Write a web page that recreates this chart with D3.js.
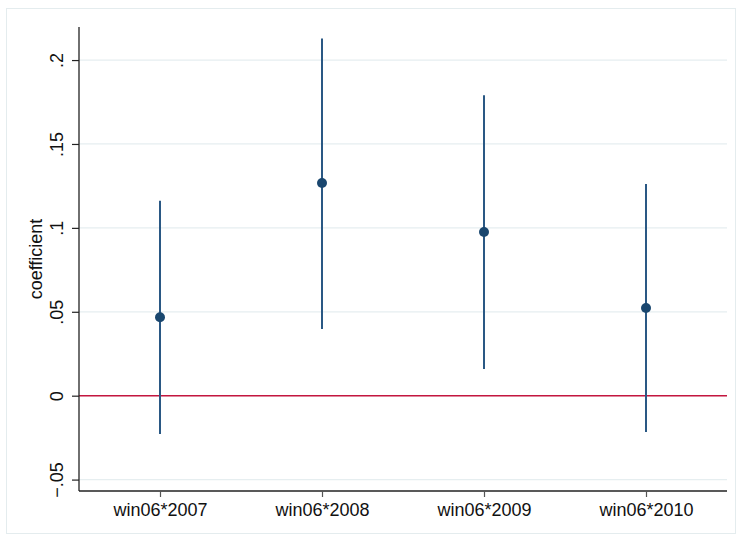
<!DOCTYPE html>
<html>
<head>
<meta charset="utf-8">
<script src="https://cdn.jsdelivr.net/npm/d3@7"></script>
<style>
  html, body { margin: 0; padding: 0; background: #fff; }
  svg { display: block; font-family: "Liberation Sans", Arial, Helvetica, sans-serif; }
</style>
</head>
<body>
<svg id="chart" width="737" height="535"></svg>
<script>
// Interaction coefficients with 95% confidence intervals
const categories = ["win06*2007", "win06*2008", "win06*2009", "win06*2010"];
const coef  = [0.0467, 0.1267, 0.0975, 0.0522];
const lower = [-0.0228, 0.0397, 0.0159, -0.0217];
const upper = [0.1162, 0.2128, 0.1791, 0.1261];
const yTicks = [-0.05, 0, 0.05, 0.1, 0.15, 0.2];
const yTickLabels = ["\u2212.05", "0", ".05", ".1", ".15", ".2"];

const svg = d3.select("#chart");
const W = 737, H = 535;
const plot = { left: 79, right: 727, top: 27, bottom: 491 };

// outer graph region border
svg.append("rect")
  .attr("x", 6.5).attr("y", 8.5)
  .attr("width", W - 8).attr("height", H - 10)
  .attr("fill", "#fff").attr("stroke", "#e4ecee").attr("stroke-width", 1);

const x = d3.scalePoint()
  .domain(categories)
  .range([plot.left, plot.right])
  .padding(0.5);

const y = d3.scaleLinear()
  .domain([-0.0568, 0.2197])
  .range([plot.bottom, plot.top]);

// horizontal grid
svg.append("g")
  .selectAll("line")
  .data(yTicks)
  .join("line")
  .attr("x1", plot.left).attr("x2", plot.right)
  .attr("y1", d => y(d)).attr("y2", d => y(d))
  .attr("stroke", "#e6eef0").attr("stroke-width", 1.2);

// reference line at zero
svg.append("line")
  .attr("x1", plot.left).attr("x2", plot.right)
  .attr("y1", y(0)).attr("y2", y(0))
  .attr("stroke", "#c4163f").attr("stroke-width", 1.6);

// y axis
const yAxis = d3.axisLeft(y)
  .tickValues(yTicks)
  .tickFormat((d, i) => yTickLabels[i])
  .tickSize(7)
  .tickPadding(8);

const gy = svg.append("g")
  .attr("transform", `translate(${plot.left},0)`)
  .call(yAxis);
gy.select(".domain").attr("stroke", "#222").attr("stroke-width", 1.3)
  .attr("d", `M0,${plot.top}V${plot.bottom}`);
gy.selectAll(".tick line").attr("stroke", "#222").attr("stroke-width", 1.2);
gy.selectAll(".tick text")
  .attr("font-size", 18)
  .attr("fill", "#111")
  .attr("text-anchor", "middle")
  .attr("transform", "translate(-22,0) rotate(-90)")
  .attr("x", 0).attr("dy", "0.35em").attr("y", 0);

// x axis
const xAxis = d3.axisBottom(x).tickSize(6).tickPadding(6);
const gx = svg.append("g")
  .attr("transform", `translate(0,${plot.bottom})`)
  .call(xAxis);
gx.select(".domain").attr("stroke", "#222").attr("stroke-width", 1.3)
  .attr("d", `M${plot.left},0H${plot.right}`);
gx.selectAll(".tick line").attr("stroke", "#555").attr("stroke-width", 1.2);
gx.selectAll(".tick text").attr("font-size", 18).attr("fill", "#111");

// y axis title
svg.append("text")
  .attr("transform", `translate(42,${(plot.top + plot.bottom) / 2}) rotate(-90)`)
  .attr("text-anchor", "middle")
  .attr("font-size", 18)
  .attr("fill", "#111")
  .text("coefficient");

// confidence intervals
const pts = categories.map((c, i) => ({ c, b: coef[i], lo: lower[i], hi: upper[i] }));

svg.append("g")
  .selectAll("line")
  .data(pts)
  .join("line")
  .attr("x1", d => x(d.c)).attr("x2", d => x(d.c))
  .attr("y1", d => y(d.lo)).attr("y2", d => y(d.hi))
  .attr("stroke", "#2a5884").attr("stroke-width", 2);

// point estimates
svg.append("g")
  .selectAll("circle")
  .data(pts)
  .join("circle")
  .attr("cx", d => x(d.c)).attr("cy", d => y(d.b))
  .attr("r", 5)
  .attr("fill", "#1a476f");
</script>
</body>
</html>
